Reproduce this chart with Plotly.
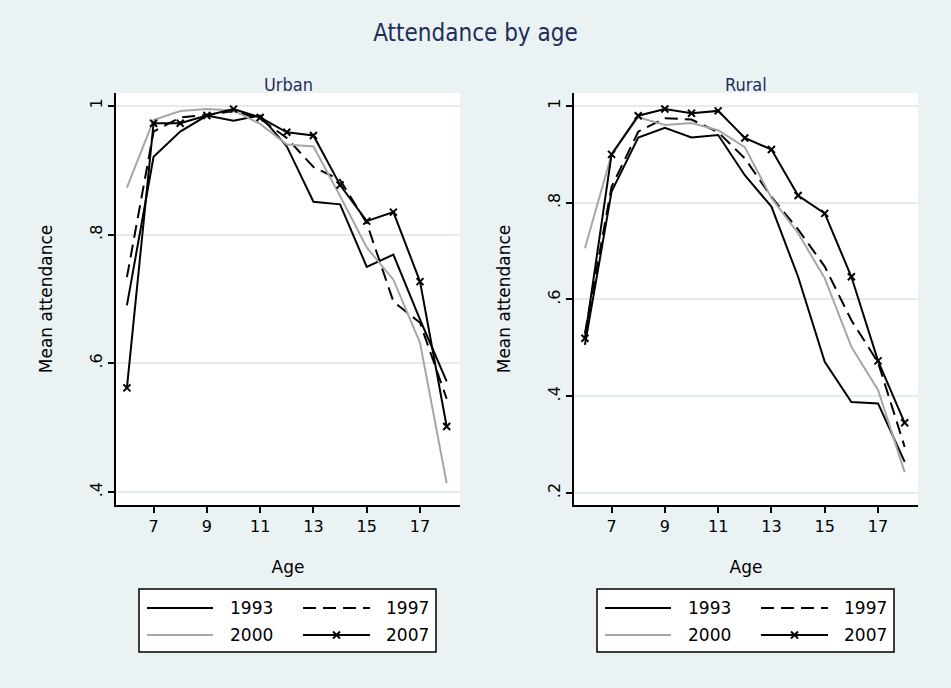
import plotly.graph_objects as go

# ---------------- data ----------------
ages = [6, 7, 8, 9, 10, 11, 12, 13, 14, 15, 16, 17, 18]
years = ["1993", "1997", "2000", "2007"]

urban_1993 = [0.690, 0.921, 0.960, 0.985, 0.977, 0.985, 0.937, 0.851, 0.847, 0.750, 0.769, 0.668, 0.572]
urban_1997 = [0.734, 0.960, 0.982, 0.986, 0.992, 0.980, 0.950, 0.905, 0.885, 0.818, 0.696, 0.663, 0.545]
urban_2000 = [0.873, 0.978, 0.992, 0.995, 0.993, 0.972, 0.940, 0.937, 0.860, 0.780, 0.730, 0.632, 0.414]
urban_2007 = [0.562, 0.973, 0.973, 0.985, 0.995, 0.982, 0.959, 0.954, 0.877, 0.821, 0.835, 0.727, 0.502]

rural_1993 = [0.506, 0.823, 0.935, 0.955, 0.935, 0.940, 0.857, 0.792, 0.647, 0.471, 0.388, 0.385, 0.264]
rural_1997 = [0.530, 0.833, 0.947, 0.975, 0.972, 0.946, 0.892, 0.812, 0.745, 0.668, 0.557, 0.470, 0.295]
rural_2000 = [0.706, 0.900, 0.977, 0.961, 0.965, 0.950, 0.915, 0.810, 0.737, 0.644, 0.502, 0.413, 0.243]
rural_2007 = [0.520, 0.900, 0.980, 0.994, 0.985, 0.990, 0.934, 0.910, 0.815, 0.778, 0.647, 0.473, 0.345]

panels = ["Urban", "Rural"]
x_ticks = [7, 9, 11, 13, 15, 17]
urban_yticks = [0.4, 0.6, 0.8, 1.0]
urban_ylabels = [".4", ".6", ".8", "1"]
rural_yticks = [0.2, 0.4, 0.6, 0.8, 1.0]
rural_ylabels = [".2", ".4", ".6", ".8", "1"]

# ---------------- styling ----------------
W, H = 951, 688
BG = "#eaf2f3"
NAVY = "#1f2d5c"
GRAY = "#a6a6a6"
GRID = "#e2ecee"
FONT = "DejaVu Sans"
TFONT = "DejaVu Sans Condensed, DejaVu Sans"
DASH = "13px,7px"

styles = {
    "1993": dict(line=dict(color="black", width=2), mode="lines"),
    "1997": dict(line=dict(color="black", width=2, dash=DASH), mode="lines"),
    "2000": dict(line=dict(color=GRAY, width=2), mode="lines"),
    "2007": dict(line=dict(color="black", width=2), mode="lines+markers",
                 marker=dict(symbol="x-thin", size=7, line=dict(width=2, color="black"))),
}

def px(x):
    return x / W

def py(y):
    return 1 - y / H

fig = go.Figure()

series = {
    ("x", "y"): [urban_1993, urban_1997, urban_2000, urban_2007],
    ("x2", "y2"): [rural_1993, rural_1997, rural_2000, rural_2007],
}
for (xa, ya), vals in series.items():
    for yr, v in zip(years, vals):
        fig.add_trace(go.Scatter(x=ages, y=v, xaxis=xa, yaxis=ya, showlegend=False,
                                 name=yr, cliponaxis=False, **styles[yr]))

common_x = dict(range=[5.59, 18.5], tickvals=x_ticks, ticks="outside", ticklen=6,
                tickwidth=1.5, tickcolor="black", showline=True, linecolor="black",
                linewidth=2, showgrid=False, zeroline=False,
                tickfont=dict(family=FONT, size=16, color="black"),
                title=dict(text="Age", font=dict(family=FONT, size=17, color="black"), standoff=26))
common_y = dict(ticks="outside", ticklen=6, tickwidth=1.5, tickcolor="black",
                showline=True, linecolor="black", linewidth=2, showgrid=True,
                gridcolor=GRID, gridwidth=2, zeroline=False, tickangle=-90,
                tickfont=dict(family=FONT, size=16, color="black"),
                title=dict(text="Mean attendance", font=dict(family=FONT, size=17, color="black"), standoff=30))

ydom = [py(505), py(93)]
fig.update_layout(
    width=W, height=H, margin=dict(l=0, r=0, t=0, b=0),
    paper_bgcolor=BG, plot_bgcolor="white", showlegend=False,
    title=dict(text="Attendance by age", x=0.5, xanchor="center", y=py(33), yanchor="middle",
               font=dict(family=TFONT, size=24, color=NAVY)),
    xaxis=dict(domain=[px(116), px(460)], anchor="y", **common_x),
    yaxis=dict(domain=ydom, anchor="x", range=[0.380, 1.020], tickvals=urban_yticks,
               ticktext=urban_ylabels, **common_y),
    xaxis2=dict(domain=[px(574), px(918)], anchor="y2", **common_x),
    yaxis2=dict(domain=ydom, anchor="x2", range=[0.175, 1.027], tickvals=rural_yticks,
                ticktext=rural_ylabels, **common_y),
)

# subtitles
for name, cx in zip(panels, [(116 + 460) / 2, (574 + 918) / 2]):
    fig.add_annotation(text=name, x=px(cx), y=py(84), xref="paper", yref="paper",
                       showarrow=False, xanchor="center", yanchor="middle",
                       font=dict(family=TFONT, size=18, color=NAVY))

# legends (one per panel)
shapes = []
for off in [0, 458]:
    shapes.append(dict(type="rect", xref="paper", yref="paper",
                       x0=px(139 + off), x1=px(436 + off), y0=py(652), y1=py(589),
                       line=dict(color="black", width=1.5), fillcolor="white", layer="above"))
    slots = [(147, 213, 251, 608), (303, 370, 407.5, 608), (147, 213, 251, 635), (303, 370, 407.5, 635)]
    for yr, (sx0, sx1, lx, ly) in zip(years, slots):
        st = styles[yr]["line"]
        shapes.append(dict(type="line", xref="paper", yref="paper",
                           x0=px(sx0 + off), x1=px(sx1 + off), y0=py(ly), y1=py(ly),
                           line=dict(color=st["color"], width=2, dash=st.get("dash", "solid")),
                           layer="above"))
        if yr == "2007":
            cx = (sx0 + sx1) / 2 + off
            for d in (1, -1):
                shapes.append(dict(type="line", xref="paper", yref="paper",
                                   x0=px(cx - 3.5), x1=px(cx + 3.5), y0=py(ly - 3.5 * d), y1=py(ly + 3.5 * d),
                                   line=dict(color="black", width=2), layer="above"))
        fig.add_annotation(text=yr, x=px(lx + off), y=py(ly), xref="paper", yref="paper",
                           showarrow=False, xanchor="center", yanchor="middle",
                           font=dict(family=FONT, size=17, color="black"))
fig.update_layout(shapes=shapes)

fig.write_html("out.html")
